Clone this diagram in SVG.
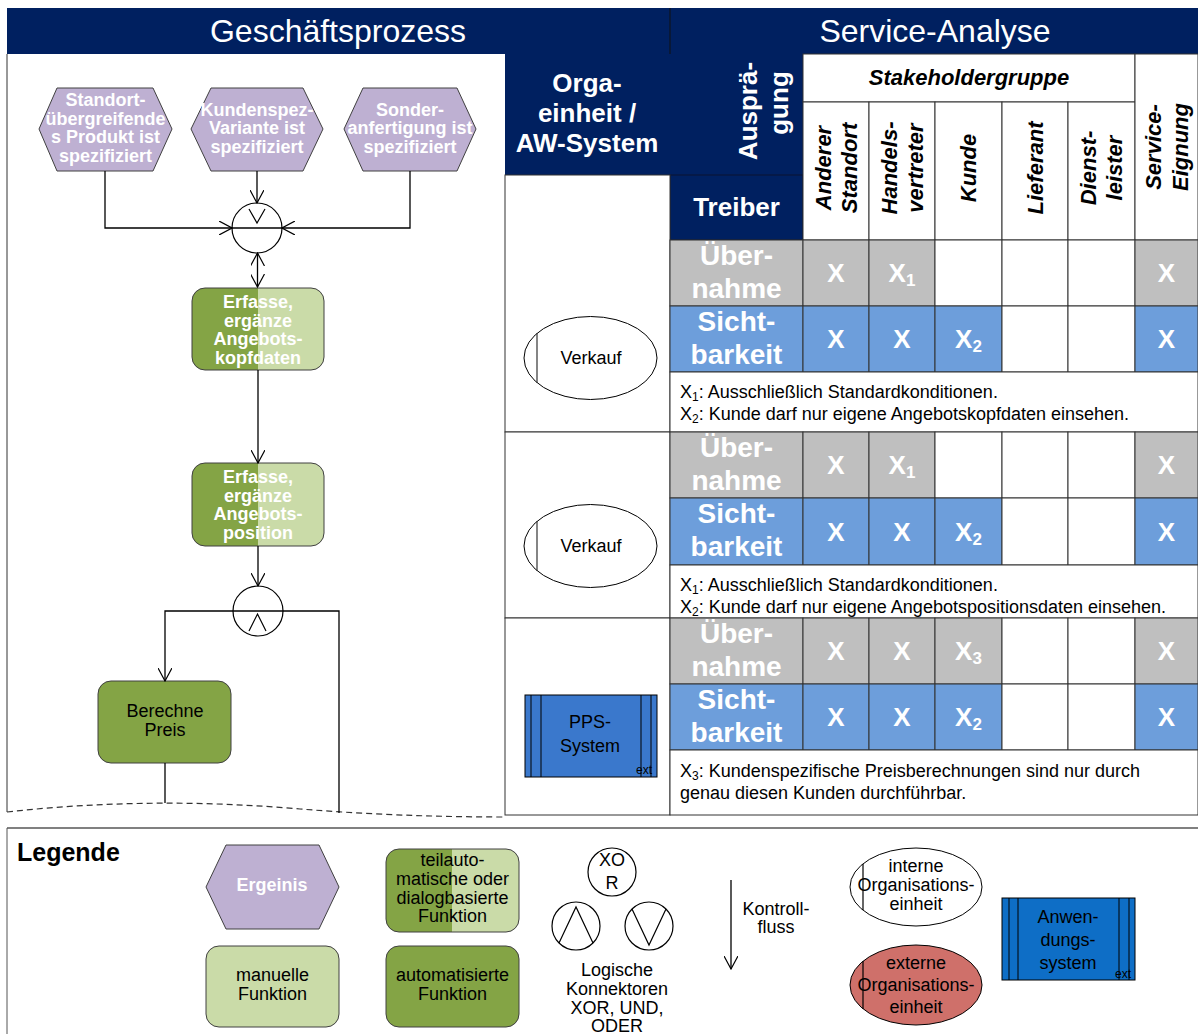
<svg xmlns="http://www.w3.org/2000/svg" width="1198" height="1034" viewBox="0 0 1198 1034">
<style>
text{font-family:"Liberation Sans",Arial,sans-serif}
.ttl{fill:#fff;font-size:32px;text-anchor:middle}
.wb{fill:#fff;font-weight:bold;text-anchor:middle}
.ev{fill:#fff;font-weight:bold;font-size:18px;text-anchor:middle}
.bk{fill:#000;font-size:18px;text-anchor:middle}
.note{fill:#000;font-size:18px}
.sh{fill:#000;font-weight:bold;font-style:italic;font-size:22px;text-anchor:middle}
.xc{fill:#fff;font-weight:bold;font-size:26px;text-anchor:middle}
.drv{fill:#fff;font-weight:bold;font-size:28px;text-anchor:middle}
.grid{stroke:#333;stroke-width:1}
.g{fill:#BFBFBF}
.b{fill:#6D9EDB}
.w{fill:#fff}
.hex{fill:#BEB0D2;stroke:#404040;stroke-width:1}
.fn{stroke:#404040;stroke-width:1}
.con{fill:#fff;stroke:#000;stroke-width:1.2}
.ln{fill:none;stroke:#000;stroke-width:1.3}
.org{fill:#fff;stroke:#000;stroke-width:1}
.sys{stroke:#000;stroke-width:1}
.ext{font-size:12px;fill:#000}
</style>
<defs>
<linearGradient id="split" x1="0" y1="0" x2="1" y2="0">
<stop offset="0.5" stop-color="#84A445"/>
<stop offset="0.5" stop-color="#CADBA8"/>
</linearGradient>
<marker id="arr" viewBox="0 0 14 14" refX="13" refY="7" markerWidth="14" markerHeight="14" markerUnits="userSpaceOnUse" orient="auto-start-reverse">
<path d="M0,0 L13,7 L0,14" fill="none" stroke="#000" stroke-width="1.2"/>
</marker>
</defs>

<rect width="1198" height="1034" fill="#fff"/>

<!-- header bar -->
<g id="header">
<rect x="7" y="8" width="1191" height="46" fill="#002060"/>
<line x1="670" y1="8" x2="670" y2="54" stroke="#111" stroke-width="1"/>
<text class="ttl" x="338" y="42">Geschäftsprozess</text>
<text class="ttl" x="935" y="42">Service-Analyse</text>
</g>

<!-- left panel frame -->
<g id="process-frame">
<line x1="7" y1="54" x2="7" y2="812" stroke="#333" stroke-width="1"/>
<path d="M7,812 Q150,796 300,809 Q400,817 505,817" fill="none" stroke="#333" stroke-width="1.2" stroke-dasharray="6,4"/>
</g>

<!-- events -->
<g id="ev1">
<polygon class="hex" points="39,129 57,88 153,88 172,129 153,171 57,171"/>
<text class="ev" x="105.5" y="106">Standort-</text>
<text class="ev" x="105.5" y="124.5">übergreifende</text>
<text class="ev" x="105.5" y="143">s Produkt ist</text>
<text class="ev" x="105.5" y="161.5">spezifiziert</text>
</g>
<g id="ev2">
<polygon class="hex" points="191,129 211,88 303,88 323,129 303,171 211,171"/>
<text class="ev" x="257" y="115.5">Kundenspez-</text>
<text class="ev" x="257" y="134">Variante ist</text>
<text class="ev" x="257" y="152.5">spezifiziert</text>
</g>
<g id="ev3">
<polygon class="hex" points="344,129 363,88 457,88 476,129 457,171 363,171"/>
<text class="ev" x="410" y="115.5">Sonder-</text>
<text class="ev" x="410" y="134">anfertigung ist</text>
<text class="ev" x="410" y="152.5">spezifiziert</text>
</g>

<!-- logical connectors -->
<g id="or1">
<circle class="con" cx="257" cy="228" r="25"/>
<path d="M249,209 L257,223 L265,209" fill="none" stroke="#000" stroke-width="1.2"/>
</g>
<g id="and1">
<circle class="con" cx="258" cy="611" r="25"/>
<path d="M249,631 L257.5,614 L266,631" fill="none" stroke="#000" stroke-width="1.2"/>
</g>

<!-- functions -->
<g id="f1">
<rect class="fn" x="192" y="288" width="132" height="82" rx="13" fill="url(#split)"/>
<text class="ev" x="258" y="308">Erfasse,</text>
<text class="ev" x="258" y="326.5">ergänze</text>
<text class="ev" x="258" y="345">Angebots-</text>
<text class="ev" x="258" y="363.5">kopfdaten</text>
</g>
<g id="f2">
<rect class="fn" x="192" y="463" width="132" height="83" rx="13" fill="url(#split)"/>
<text class="ev" x="258" y="483">Erfasse,</text>
<text class="ev" x="258" y="501.5">ergänze</text>
<text class="ev" x="258" y="520">Angebots-</text>
<text class="ev" x="258" y="538.5">position</text>
</g>
<g id="f3">
<rect class="fn" x="98" y="681" width="133" height="82" rx="13" fill="#84A445"/>
<text class="bk" x="165" y="717">Berechne</text>
<text class="bk" x="165" y="736">Preis</text>
</g>

<g id="connectors">
<path class="ln" d="M105,171 V228 H232" marker-end="url(#arr)"/>
<path class="ln" d="M410,171 V228 H282" marker-end="url(#arr)"/>
<path class="ln" d="M232,228 H282"/>
<path class="ln" d="M257,171 V203" marker-end="url(#arr)"/>
<path class="ln" d="M257.5,253 V287" marker-start="url(#arr)" marker-end="url(#arr)"/>
<path class="ln" d="M258,370 V463" marker-end="url(#arr)"/>
<path class="ln" d="M258,546 V586" marker-end="url(#arr)"/>
<path class="ln" d="M233,611 H165 V681" marker-end="url(#arr)"/>
<path class="ln" d="M233,611 H283"/>
<path class="ln" d="M283,611 H339 V813"/>
<path class="ln" d="M165,763 V803"/>
</g>

<!-- table header -->
<g id="table-header">
<rect x="505" y="54" width="165" height="121" fill="#002060"/>
<rect x="670" y="54" width="133" height="121" fill="#002060"/>
<rect x="670" y="175" width="133" height="65" fill="#002060" stroke="#0a1330" stroke-width="1"/>
<text class="wb" font-size="26" x="587" y="92">Orga-</text>
<text class="wb" font-size="26" x="587" y="122">einheit /</text>
<text class="wb" font-size="26" x="587" y="152">AW-System</text>
<text class="wb" font-size="26" transform="translate(757,111) rotate(-90)">Ausprä-</text>
<text class="wb" font-size="26" transform="translate(788,103) rotate(-90)">gung</text>
<text class="wb" font-size="26" x="736.5" y="216">Treiber</text>
<rect class="grid w" x="803" y="54" width="332" height="48"/>
<text class="sh" font-size="23" x="969" y="85">Stakeholdergruppe</text>
<rect class="grid w" x="803" y="102" width="66" height="138"/>
<rect class="grid w" x="869" y="102" width="66" height="138"/>
<rect class="grid w" x="935" y="102" width="67" height="138"/>
<rect class="grid w" x="1002" y="102" width="66" height="138"/>
<rect class="grid w" x="1068" y="102" width="67" height="138"/>
<rect class="grid w" x="1135" y="54" width="63" height="186"/>
<text class="sh" transform="translate(831,168) rotate(-90)">Anderer</text>
<text class="sh" transform="translate(857,168) rotate(-90)">Standort</text>
<text class="sh" transform="translate(897,168) rotate(-90)">Handels-</text>
<text class="sh" transform="translate(923,168) rotate(-90)">vertreter</text>
<text class="sh" transform="translate(976,168) rotate(-90)">Kunde</text>
<text class="sh" transform="translate(1043,168) rotate(-90)">Lieferant</text>
<text class="sh" transform="translate(1096,168) rotate(-90)">Dienst-</text>
<text class="sh" transform="translate(1122,168) rotate(-90)">leister</text>
<text class="sh" transform="translate(1161,147) rotate(-90)">Service-</text>
<text class="sh" transform="translate(1188,147) rotate(-90)">Eignung</text>
</g>

<!-- org column -->
<g id="org-column">
<rect class="grid w" x="505" y="175" width="165" height="257"/>
<rect class="grid w" x="505" y="432" width="165" height="186"/>
<rect class="grid w" x="505" y="618" width="165" height="197"/>
</g>

<g id="org1">
<ellipse class="org" cx="590.5" cy="358" rx="66.5" ry="41.5"/>
<line x1="537" y1="333" x2="537" y2="383" stroke="#333" stroke-width="1.2"/>
<text class="bk" x="591" y="364">Verkauf</text>
</g>
<g id="org2">
<ellipse class="org" cx="590.5" cy="546" rx="66.5" ry="41.5"/>
<line x1="537" y1="521" x2="537" y2="571" stroke="#333" stroke-width="1.2"/>
<text class="bk" x="591" y="552">Verkauf</text>
</g>
<g id="sys1">
<rect class="sys" x="525" y="695" width="132" height="82" fill="#3A78CC"/>
<line x1="531" y1="695" x2="531" y2="777" stroke="#000"/>
<line x1="541" y1="695" x2="541" y2="777" stroke="#000"/>
<line x1="641" y1="695" x2="641" y2="777" stroke="#000"/>
<line x1="651" y1="695" x2="651" y2="777" stroke="#000"/>
<text class="bk" x="590" y="728">PPS-</text>
<text class="bk" x="590" y="752">System</text>
<text class="ext" x="636" y="774">ext</text>
</g>

<!-- block 1 -->
<g id="block1">
<rect class="grid g" x="670" y="240" width="133" height="66"/>
<rect class="grid g" x="803" y="240" width="66" height="66"/>
<rect class="grid g" x="869" y="240" width="66" height="66"/>
<rect class="grid w" x="935" y="240" width="67" height="66"/>
<rect class="grid w" x="1002" y="240" width="66" height="66"/>
<rect class="grid w" x="1068" y="240" width="67" height="66"/>
<rect class="grid g" x="1135" y="240" width="63" height="66"/>
<rect class="grid b" x="670" y="306" width="133" height="66"/>
<rect class="grid b" x="803" y="306" width="66" height="66"/>
<rect class="grid b" x="869" y="306" width="66" height="66"/>
<rect class="grid b" x="935" y="306" width="67" height="66"/>
<rect class="grid w" x="1002" y="306" width="66" height="66"/>
<rect class="grid w" x="1068" y="306" width="67" height="66"/>
<rect class="grid b" x="1135" y="306" width="63" height="66"/>
<rect class="grid w" x="670" y="372" width="528" height="60"/>
<text class="drv" x="736.5" y="265">Über-</text>
<text class="drv" x="736.5" y="298">nahme</text>
<text class="drv" x="736.5" y="331">Sicht-</text>
<text class="drv" x="736.5" y="364">barkeit</text>
<text class="xc" x="836" y="282">X</text>
<text class="xc" x="902" y="282">X<tspan font-size="17" dy="4">1</tspan></text>
<text class="xc" x="1166.5" y="282">X</text>
<text class="xc" x="836" y="348">X</text>
<text class="xc" x="902" y="348">X</text>
<text class="xc" x="968.5" y="348">X<tspan font-size="17" dy="4">2</tspan></text>
<text class="xc" x="1166.5" y="348">X</text>
<text class="note" x="680" y="398">X<tspan font-size="12" dy="3">1</tspan><tspan dy="-3">: Ausschließlich Standardkonditionen.</tspan></text>
<text class="note" x="680" y="420">X<tspan font-size="12" dy="3">2</tspan><tspan dy="-3">: Kunde darf nur eigene Angebotskopfdaten einsehen.</tspan></text>
</g>

<!-- block 2 -->
<g id="block2">
<rect class="grid g" x="670" y="432" width="133" height="66"/>
<rect class="grid g" x="803" y="432" width="66" height="66"/>
<rect class="grid g" x="869" y="432" width="66" height="66"/>
<rect class="grid w" x="935" y="432" width="67" height="66"/>
<rect class="grid w" x="1002" y="432" width="66" height="66"/>
<rect class="grid w" x="1068" y="432" width="67" height="66"/>
<rect class="grid g" x="1135" y="432" width="63" height="66"/>
<rect class="grid b" x="670" y="498" width="133" height="67"/>
<rect class="grid b" x="803" y="498" width="66" height="67"/>
<rect class="grid b" x="869" y="498" width="66" height="67"/>
<rect class="grid b" x="935" y="498" width="67" height="67"/>
<rect class="grid w" x="1002" y="498" width="66" height="67"/>
<rect class="grid w" x="1068" y="498" width="67" height="67"/>
<rect class="grid b" x="1135" y="498" width="63" height="67"/>
<rect class="grid w" x="670" y="565" width="528" height="53"/>
<text class="drv" x="736.5" y="457">Über-</text>
<text class="drv" x="736.5" y="490">nahme</text>
<text class="drv" x="736.5" y="523">Sicht-</text>
<text class="drv" x="736.5" y="556">barkeit</text>
<text class="xc" x="836" y="474">X</text>
<text class="xc" x="902" y="474">X<tspan font-size="17" dy="4">1</tspan></text>
<text class="xc" x="1166.5" y="474">X</text>
<text class="xc" x="836" y="541">X</text>
<text class="xc" x="902" y="541">X</text>
<text class="xc" x="968.5" y="541">X<tspan font-size="17" dy="4">2</tspan></text>
<text class="xc" x="1166.5" y="541">X</text>
<text class="note" x="680" y="591">X<tspan font-size="12" dy="3">1</tspan><tspan dy="-3">: Ausschließlich Standardkonditionen.</tspan></text>
<text class="note" x="680" y="613">X<tspan font-size="12" dy="3">2</tspan><tspan dy="-3">: Kunde darf nur eigene Angebotspositionsdaten einsehen.</tspan></text>
</g>

<!-- block 3 -->
<g id="block3">
<rect class="grid g" x="670" y="618" width="133" height="66"/>
<rect class="grid g" x="803" y="618" width="66" height="66"/>
<rect class="grid g" x="869" y="618" width="66" height="66"/>
<rect class="grid g" x="935" y="618" width="67" height="66"/>
<rect class="grid w" x="1002" y="618" width="66" height="66"/>
<rect class="grid w" x="1068" y="618" width="67" height="66"/>
<rect class="grid g" x="1135" y="618" width="63" height="66"/>
<rect class="grid b" x="670" y="684" width="133" height="66"/>
<rect class="grid b" x="803" y="684" width="66" height="66"/>
<rect class="grid b" x="869" y="684" width="66" height="66"/>
<rect class="grid b" x="935" y="684" width="67" height="66"/>
<rect class="grid w" x="1002" y="684" width="66" height="66"/>
<rect class="grid w" x="1068" y="684" width="67" height="66"/>
<rect class="grid b" x="1135" y="684" width="63" height="66"/>
<rect class="grid w" x="670" y="750" width="528" height="65"/>
<text class="drv" x="736.5" y="643">Über-</text>
<text class="drv" x="736.5" y="676">nahme</text>
<text class="drv" x="736.5" y="709">Sicht-</text>
<text class="drv" x="736.5" y="742">barkeit</text>
<text class="xc" x="836" y="660">X</text>
<text class="xc" x="902" y="660">X</text>
<text class="xc" x="968.5" y="660">X<tspan font-size="17" dy="4">3</tspan></text>
<text class="xc" x="1166.5" y="660">X</text>
<text class="xc" x="836" y="726">X</text>
<text class="xc" x="902" y="726">X</text>
<text class="xc" x="968.5" y="726">X<tspan font-size="17" dy="4">2</tspan></text>
<text class="xc" x="1166.5" y="726">X</text>
<text class="note" x="680" y="777">X<tspan font-size="12" dy="3">3</tspan><tspan dy="-3">: Kundenspezifische Preisberechnungen sind nur durch</tspan></text>
<text class="note" x="680" y="799">genau diesen Kunden durchführbar.</text>
</g>

<!-- legend -->
<g id="legend-frame">
<line x1="7" y1="828" x2="1198" y2="828" stroke="#808080" stroke-width="2"/>
<line x1="7" y1="828" x2="7" y2="1034" stroke="#555" stroke-width="1"/>
<text x="17" y="861" font-size="25" font-weight="bold" fill="#000">Legende</text>
</g>
<g id="lg-event">
<polygon class="hex" points="206,887 226,845 319,845 339,887 319,929 226,929"/>
<text class="ev" x="272" y="891">Ergeinis</text>
</g>
<g id="lg-semi">
<rect class="fn" x="386" y="849" width="133" height="83" rx="13" fill="url(#split)"/>
<text class="bk" x="452.5" y="866">teilauto-</text>
<text class="bk" x="452.5" y="885">matische oder</text>
<text class="bk" x="452.5" y="904">dialogbasierte</text>
<text class="bk" x="452.5" y="922">Funktion</text>
</g>
<g id="lg-manual">
<rect class="fn" x="206" y="946" width="133" height="81" rx="13" fill="#CADBA8"/>
<text class="bk" x="272.5" y="981">manuelle</text>
<text class="bk" x="272.5" y="1000">Funktion</text>
</g>
<g id="lg-auto">
<rect class="fn" x="386" y="946" width="133" height="81" rx="13" fill="#84A445"/>
<text class="bk" x="452.5" y="981">automatisierte</text>
<text class="bk" x="452.5" y="1000">Funktion</text>
</g>
<g id="lg-xor">
<circle class="con" cx="612" cy="872" r="24"/>
<text class="bk" x="612" y="866">XO</text>
<text class="bk" x="612" y="889">R</text>
</g>
<g id="lg-and">
<circle class="con" cx="576" cy="926" r="24"/>
<path d="M559,943 L576,907 L593,943" fill="none" stroke="#000" stroke-width="1.2"/>
</g>
<g id="lg-or">
<circle class="con" cx="649" cy="926" r="24"/>
<path d="M632,909 L649,945 L666,909" fill="none" stroke="#000" stroke-width="1.2"/>
</g>
<g id="lg-conn-label">
<text class="bk" x="617" y="976">Logische</text>
<text class="bk" x="617" y="995">Konnektoren</text>
<text class="bk" x="617" y="1014">XOR, UND,</text>
<text class="bk" x="617" y="1032">ODER</text>
</g>
<g id="lg-flow">
<path class="ln" d="M731,880 V969" marker-end="url(#arr)"/>
<text class="bk" x="776" y="915">Kontroll-</text>
<text class="bk" x="776" y="933">fluss</text>
</g>
<g id="lg-int">
<ellipse class="org" cx="916" cy="887" rx="66" ry="39"/>
<line x1="863" y1="864" x2="863" y2="910" stroke="#000" stroke-width="1.2"/>
<text class="bk" x="916" y="872">interne</text>
<text class="bk" x="916" y="891">Organisations-</text>
<text class="bk" x="916" y="910">einheit</text>
</g>
<g id="lg-ext">
<ellipse cx="916" cy="985" rx="66" ry="40" fill="#CF706A" stroke="#000" stroke-width="1"/>
<line x1="863" y1="961" x2="863" y2="1009" stroke="#000" stroke-width="1.2"/>
<text class="bk" x="916" y="969">externe</text>
<text class="bk" x="916" y="991">Organisations-</text>
<text class="bk" x="916" y="1013">einheit</text>
</g>
<g id="lg-sys">
<rect class="sys" x="1002" y="898" width="133" height="82" fill="#0E6EC6"/>
<line x1="1009" y1="898" x2="1009" y2="980" stroke="#000"/>
<line x1="1018" y1="898" x2="1018" y2="980" stroke="#000"/>
<line x1="1119" y1="898" x2="1119" y2="980" stroke="#000"/>
<line x1="1129" y1="898" x2="1129" y2="980" stroke="#000"/>
<text class="bk" x="1068" y="923">Anwen-</text>
<text class="bk" x="1068" y="946">dungs-</text>
<text class="bk" x="1068" y="969">system</text>
<text class="ext" x="1115" y="978">ext</text>
</g>
</svg>
